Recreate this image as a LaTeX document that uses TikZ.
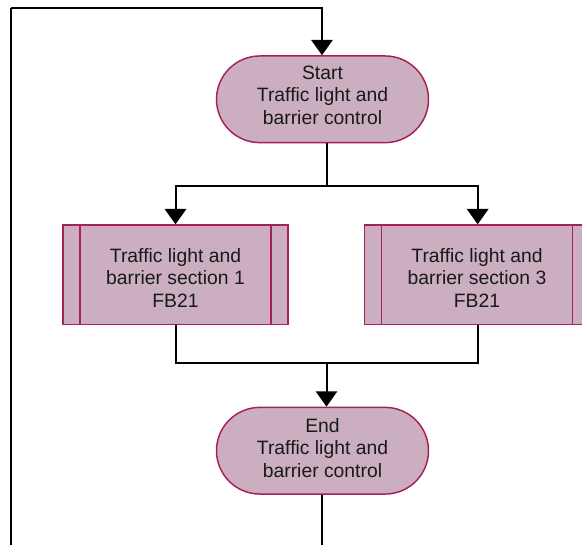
\documentclass[tikz,border=0pt]{standalone}
\usepackage{fontspec}
\setmainfont{Liberation Sans}
\usetikzlibrary{shapes.misc,arrows.meta}
\definecolor{boxfill}{RGB}{203,174,192}
\definecolor{boxline}{RGB}{168,32,88}
\definecolor{txt}{RGB}{25,25,25}
\begin{document}
\begin{tikzpicture}[x=0.75pt,y=-0.75pt,
  every node/.style={font=\fontsize{14.5pt}{16.9pt}\selectfont, text=txt, align=center, inner sep=0pt},
  terminal/.style={rounded rectangle, rounded rectangle arc length=180, draw=boxline, fill=boxfill, line width=1.1pt, minimum width=159pt, minimum height=65pt},
  procbox/.style={rectangle, draw=boxline, fill=boxfill, line width=1.1pt, minimum width=169pt, minimum height=74.5pt,
    path picture={\draw[boxline, line width=1.1pt]
      ([xshift=12.75pt]path picture bounding box.north west) -- ([xshift=12.75pt]path picture bounding box.south west)
      ([xshift=-12.75pt]path picture bounding box.north east) -- ([xshift=-12.75pt]path picture bounding box.south east);}},
  conn/.style={draw=black, line width=1.5pt},
  arr/.style={conn, -{Triangle[width=16pt,length=11.5pt]}}
]
\useasboundingbox (0,0) rectangle (582,544);
\node[terminal] (start) at (322.5,99.3) {};
\node (starttext) at ([yshift=3pt]start.center) {Start\\Traffic light and\\barrier control};
\node[procbox] (s1) at (175.5,274.7) {};
\node (s1text) at ([yshift=-2.25pt]s1.center) {Traffic light and\\barrier section 1\\FB21};
\node[procbox] (s3) at (477,274.7) {};
\node (s3text) at ([yshift=-2.25pt]s3.center) {Traffic light and\\barrier section 3\\FB21};
\node[terminal] (end) at (322.5,450.7) {};
\node (endtext) at ([yshift=2.25pt]end.center) {End\\Traffic light and\\barrier control};
\coordinate (split) at (326.5,185.7);
\coordinate (merge) at (326.5,362.7);
\coordinate (lb) at (10.5,560);
\coordinate (lt) at (10.5,8.3);
% loop back
\draw[conn] ([xshift=-0.75pt]end.south) |- (lb) -- (lt);
\draw[arr] (lt) -| ([xshift=-0.4pt]start.north);
% split
\draw[conn] ([xshift=3pt]start.south) -- (split);
\draw[arr] (split) -| (s1.north);
\draw[arr] (split) -| ([xshift=0.5pt]s3.north);
% merge
\draw[conn] (s1.south) |- (merge);
\draw[conn] ([xshift=0.5pt]s3.south) |- (merge);
\draw[arr] (merge) -- ([xshift=3pt]end.north);
\end{tikzpicture}
\end{document}
